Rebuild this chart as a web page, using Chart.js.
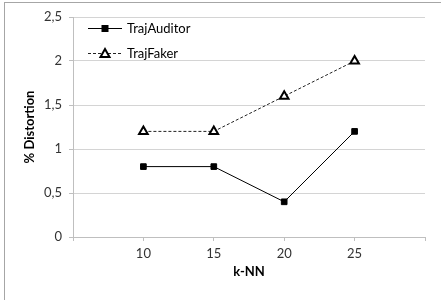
<!DOCTYPE html>
<html>
<head>
<meta charset="utf-8">
<script src="https://cdn.jsdelivr.net/npm/chart.js@4"></script>
<style>
  html, body { margin: 0; padding: 0; background: #fff; }
  #wrap { position: relative; width: 441px; height: 300px; }
</style>
</head>
<body>
<div id="wrap"><canvas id="chart" width="441" height="300"></canvas></div>
<script>
// ---- data ----
const kValues = [10, 15, 20, 25];
const trajAuditor = [0.8, 0.8, 0.4, 1.2];
const trajFaker = [1.2, 1.2, 1.6, 2.0];
const seriesNames = ['TrajAuditor', 'TrajFaker'];

const FONT = 'Lato, "Open Sans", sans-serif';

function toPoints(ys) {
  return kValues.map((k, i) => ({ x: k, y: ys[i] }));
}

/**
 * Frame lines on the left and top edge of the picture
 */
const framePlugin = {
  id: 'frame',
  beforeDraw: (chart) => {
    const ctx = chart.ctx;
    ctx.save();
    ctx.strokeStyle = '#a6a6a6';
    ctx.lineWidth = 1;
    ctx.beginPath();
    ctx.moveTo(4.5, 2);
    ctx.lineTo(4.5, 300);
    ctx.moveTo(4, 2.5);
    ctx.lineTo(441, 2.5);
    ctx.stroke();
    ctx.restore();
  }
};

/**
 * Legend inside the plot area, top left (line sample with marker in the middle)
 */
const insideLegendPlugin = {
  id: 'insideLegend',
  afterDraw: (chart) => {
    const ctx = chart.ctx;
    const area = chart.chartArea;
    ctx.save();
    chart.data.datasets.forEach((ds, i) => {
      const y = area.top + 11 + i * 25;
      const x0 = area.left + 15;
      const x1 = x0 + 34;
      const xm = (x0 + x1) / 2;
      ctx.strokeStyle = ds.borderColor;
      ctx.lineWidth = 1;
      ctx.setLineDash(ds.borderDash || []);
      ctx.beginPath();
      ctx.moveTo(x0, y + 0.5);
      ctx.lineTo(x1, y + 0.5);
      ctx.stroke();
      ctx.setLineDash([]);
      if (ds.pointStyle === 'rect') {
        ctx.fillStyle = '#000';
        ctx.fillRect(xm - 3.5, y - 3, 7, 7);
      } else {
        ctx.fillStyle = '#fff';
        ctx.strokeStyle = '#000';
        ctx.lineWidth = 2;
        ctx.beginPath();
        ctx.moveTo(xm, y - 4);
        ctx.lineTo(xm + 4.5, y + 4);
        ctx.lineTo(xm - 4.5, y + 4);
        ctx.closePath();
        ctx.fill();
        ctx.stroke();
      }
      ctx.fillStyle = '#000';
      ctx.font = '13px ' + FONT;
      ctx.textBaseline = 'middle';
      ctx.textAlign = 'left';
      ctx.fillText(ds.label, x1 + 5, y + 1);
    });
    ctx.restore();
  }
};

function fmt(v) {
  return String(v).replace('.', ',');
}

new Chart(document.getElementById('chart'), {
  type: 'line',
  plugins: [framePlugin, insideLegendPlugin],
  data: {
    datasets: [
      {
        label: seriesNames[0],
        data: toPoints(trajAuditor),
        borderColor: '#000',
        borderWidth: 1,
        pointStyle: 'rect',
        pointRadius: 4,
        pointBackgroundColor: '#000',
        pointBorderColor: '#000',
        pointBorderWidth: 1,
        tension: 0
      },
      {
        label: seriesNames[1],
        data: toPoints(trajFaker),
        borderColor: '#222',
        borderWidth: 1,
        borderDash: [3, 2],
        pointStyle: 'triangle',
        pointRadius: 5,
        pointBackgroundColor: '#fff',
        pointBorderColor: '#000',
        pointBorderWidth: 2,
        tension: 0
      }
    ]
  },
  options: {
    responsive: false,
    animation: false,
    layout: { padding: { top: 17, right: 16, left: 22, bottom: 16 } },
    plugins: {
      legend: { display: false },
      tooltip: { enabled: false }
    },
    scales: {
      x: {
        type: 'linear',
        min: 5,
        max: 30,
        afterFit: (scale) => { scale.height = 47; },
        ticks: {
          stepSize: 5,
          color: '#333',
          font: { family: FONT, size: 13 },
          padding: 5,
          callback: (v) => (v === 5 || v === 30) ? '' : v
        },
        grid: {
          drawOnChartArea: false,
          drawTicks: true,
          tickLength: 4,
          color: '#bfbfbf'
        },
        border: { color: '#bfbfbf' },
        title: {
          display: true,
          text: 'k-NN',
          color: '#000',
          font: { family: FONT, size: 13, weight: 'bold' },
          padding: { top: 4 }
        }
      },
      y: {
        min: 0,
        max: 2.5,
        afterFit: (scale) => { scale.width = 51; },
        ticks: {
          stepSize: 0.5,
          color: '#333',
          font: { family: FONT, size: 13 },
          padding: 7,
          callback: (v) => fmt(v)
        },
        grid: {
          color: '#d4d4d4',
          tickLength: 4,
          tickColor: '#bfbfbf'
        },
        border: { color: '#bfbfbf' },
        title: {
          display: true,
          text: '% Distortion',
          color: '#000',
          font: { family: FONT, size: 13, weight: 'bold' },
          padding: 0
        }
      }
    }
  }
});
</script>
</body>
</html>
